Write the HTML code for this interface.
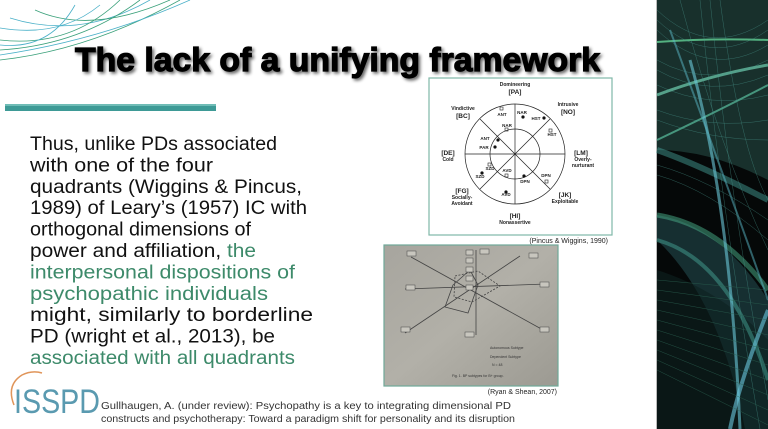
<!DOCTYPE html>
<html><head><meta charset="utf-8">
<style>
html,body{margin:0;padding:0;background:#fff;}
svg{display:block;}
text{font-family:"Liberation Sans",sans-serif;}
</style></head>
<body>
<svg width="768" height="429" viewBox="0 0 768 429" xmlns="http://www.w3.org/2000/svg">
<defs>
<linearGradient id="photo" x1="0" y1="0" x2="1" y2="1">
<stop offset="0" stop-color="#a7a59e"/><stop offset="0.5" stop-color="#b2b0a8"/><stop offset="1" stop-color="#9c9a92"/>
</linearGradient>
<filter id="sh" x="-5%" y="-20%" width="110%" height="140%">
<feGaussianBlur in="SourceAlpha" stdDeviation="1.5"/><feOffset dx="2" dy="2"/>
<feComponentTransfer><feFuncA type="linear" slope="0.6"/></feComponentTransfer>
<feMerge><feMergeNode/><feMergeNode in="SourceGraphic"/></feMerge>
</filter>
</defs>
<rect width="768" height="429" fill="#fff"/>

<!-- top-left decoration -->
<g fill="none" stroke-width="0.8">
<path d="M0 60 Q90 50 180 0" stroke="#3aa07a"/>
<path d="M0 55 Q100 40 190 0" stroke="#4ab0c8"/>
<path d="M10 18 Q80 40 150 0" stroke="#4ab0c8"/>
<path d="M35 10 Q90 35 170 0" stroke="#3aa07a"/>
<path d="M0 40 Q70 48 120 0" stroke="#3aa07a"/>
<path d="M0 28 Q60 38 100 5" stroke="#4ab0c8"/>
<path d="M0 50 Q80 45 140 0" stroke="#3aa07a"/>
<path d="M0 45 Q50 50 75 5" stroke="#4ab0c8"/>
</g>

<!-- title -->
<text x="75" y="71" font-size="33" font-weight="bold" fill="#000" stroke="#000" stroke-width="1.2" filter="url(#sh)" textLength="525" lengthAdjust="spacingAndGlyphs">The lack of a unifying framework</text>

<!-- teal bar -->
<rect x="5" y="104" width="211" height="7" fill="#3e9a96"/>
<rect x="5" y="104" width="211" height="2" fill="#6fbcb6"/>

<!-- body text -->
<g font-size="19" fill="#111">
<text x="30" y="150" textLength="247" lengthAdjust="spacingAndGlyphs">Thus, unlike PDs associated</text>
<text x="30" y="171.4" textLength="183" lengthAdjust="spacingAndGlyphs">with one of the four</text>
<text x="30" y="192.8" textLength="272" lengthAdjust="spacingAndGlyphs">quadrants (Wiggins &amp; Pincus,</text>
<text x="30" y="214.2" textLength="277" lengthAdjust="spacingAndGlyphs">1989) of Leary’s (1957) IC with</text>
<text x="30" y="235.6" textLength="221" lengthAdjust="spacingAndGlyphs">orthogonal dimensions of</text>
<text x="30" y="257" textLength="226" lengthAdjust="spacingAndGlyphs">power and affiliation, <tspan fill="#3d8a6a">the</tspan></text>
<text x="30" y="278.4" textLength="265" lengthAdjust="spacingAndGlyphs" fill="#3d8a6a">interpersonal dispositions of</text>
<text x="30" y="299.8" textLength="238" lengthAdjust="spacingAndGlyphs" fill="#3d8a6a">psychopathic individuals</text>
<text x="30" y="321.2" textLength="283" lengthAdjust="spacingAndGlyphs">might, similarly to borderline</text>
<text x="30" y="342.6" textLength="245" lengthAdjust="spacingAndGlyphs">PD (wright et al., 2013), be</text>
<text x="30" y="364" textLength="265" lengthAdjust="spacingAndGlyphs" fill="#3d8a6a">associated with all quadrants</text>
</g>

<!-- Figure 1 -->
<rect x="429" y="78" width="183" height="157" fill="#fff" stroke="#7fb8a8" stroke-width="1.2"/>
<g stroke="#222" stroke-width="0.7" fill="none">
<circle cx="515" cy="154" r="50"/>
<circle cx="515" cy="154" r="25"/>
<line x1="465" y1="154" x2="565" y2="154"/>
<line x1="515" y1="104" x2="515" y2="204"/>
<line x1="480" y1="119" x2="550" y2="189"/>
<line x1="550" y1="119" x2="480" y2="189"/>
</g>
<g font-size="5" font-weight="bold" fill="#222" text-anchor="middle">
<text x="515" y="86">Domineering</text><text x="515" y="94" font-size="6.5">[PA]</text>
<text x="463" y="110">Vindictive</text><text x="463" y="118" font-size="6.5">[BC]</text>
<text x="568" y="106">Intrusive</text><text x="568" y="114" font-size="6.5">[NO]</text>
<text x="448" y="155" font-size="6.5">[DE]</text><text x="448" y="161">Cold</text>
<text x="581" y="155" font-size="6.5">[LM]</text><text x="583" y="161">Overly-</text><text x="583" y="167">nurturant</text>
<text x="462" y="193" font-size="6.5">[FG]</text><text x="462" y="199">Socially-</text><text x="462" y="205">Avoidant</text>
<text x="565" y="197" font-size="6.5">[JK]</text><text x="565" y="203">Exploitable</text>
<text x="515" y="218" font-size="6.5">[HI]</text><text x="515" y="224">Nonassertive</text>
<text x="502" y="116" font-size="4.5">ANT</text><text x="522" y="114" font-size="4.5">NAR</text>
<text x="536" y="120" font-size="4.5">HST</text><text x="552" y="136" font-size="4.5">HST</text>
<text x="507" y="127" font-size="4.5">NAR</text><text x="485" y="140" font-size="4.5">ANT</text>
<text x="484" y="149" font-size="4.5">PAR</text><text x="490" y="170" font-size="4.5">SZD</text>
<text x="480" y="178" font-size="4.5">SZD</text><text x="507" y="172" font-size="4.5">AVD</text>
<text x="525" y="183" font-size="4.5">DPN</text><text x="546" y="177" font-size="4.5">DPN</text>
<text x="506" y="196" font-size="4.5">AVD</text>
</g>
<g fill="#111">
<circle cx="523" cy="117" r="1.6"/><circle cx="544" cy="118" r="1.6"/>
<circle cx="498" cy="140" r="1.6"/><circle cx="495" cy="147" r="1.6"/>
<circle cx="482" cy="173" r="1.6"/><circle cx="524" cy="176" r="1.6"/>
<circle cx="506" cy="192" r="1.6"/>
</g>
<g fill="none" stroke="#222" stroke-width="0.6">
<rect x="500" y="107" width="3" height="3"/><rect x="549" y="129" width="3" height="3"/>
<rect x="505" y="128" width="3" height="3"/><rect x="488" y="163" width="3" height="3"/>
<rect x="505" y="174" width="3" height="3"/><rect x="545" y="180" width="3" height="3"/>
</g>
<text x="608" y="243" font-size="7" fill="#222" text-anchor="end">(Pincus &amp; Wiggins, 1990)</text>

<!-- Figure 2 (photo) -->
<rect x="384" y="245" width="174" height="141" fill="url(#photo)" stroke="#6fa898" stroke-width="1.2"/>
<g stroke="#444" stroke-width="0.8" fill="none">
<line x1="476" y1="250" x2="476" y2="335"/>
<line x1="411" y1="257" x2="545" y2="331"/>
<line x1="405" y1="333" x2="520" y2="256"/>
<line x1="405" y1="289" x2="546" y2="284"/>
<path d="M453 285 L470 270 L478 285 L468 313 L445 307 Z"/>
<path d="M455 276 L478 271 L500 286 L472 302 L454 297 Z" stroke-dasharray="2 1.5"/>
</g>
<g fill="#c8c6be" stroke="#444" stroke-width="0.5">
<rect x="407" y="251" width="9" height="5"/><rect x="466" y="250" width="7" height="5"/>
<rect x="480" y="249" width="9" height="5"/><rect x="529" y="253" width="9" height="5"/>
<rect x="466" y="258" width="7" height="5"/><rect x="466" y="267" width="7" height="5"/>
<rect x="466" y="276" width="7" height="5"/><rect x="466" y="285" width="7" height="5"/>
<rect x="406" y="285" width="9" height="5"/><rect x="540" y="282" width="9" height="5"/>
<rect x="401" y="327" width="9" height="5"/><rect x="540" y="327" width="9" height="5"/>
<rect x="465" y="332" width="9" height="5"/>
</g>
<g font-size="3.5" fill="#333">
<text x="490" y="349">Autonomous Subtype</text>
<text x="490" y="358">Dependent Subtype</text>
<text x="492" y="366">N = 48</text>
<text x="452" y="377">Fig. 1. BP subtypes for B+ group.</text>
</g>
<text x="557" y="394" font-size="7" fill="#222" text-anchor="end">(Ryan &amp; Shean, 2007)</text>

<!-- ISSPD logo -->
<path d="M14 405 Q6 385 22 375 Q32 370 42 373" fill="none" stroke="#e0955a" stroke-width="1.5"/>
<text x="14" y="413" font-size="34" fill="#5a9ab0" textLength="86" lengthAdjust="spacingAndGlyphs">ISSPD</text>

<!-- citation -->
<g font-size="10.5" fill="#333">
<text x="101" y="409" textLength="410" lengthAdjust="spacingAndGlyphs">Gullhaugen, A. (under review): Psychopathy is a key to integrating dimensional PD</text>
<text x="101" y="422" textLength="414" lengthAdjust="spacingAndGlyphs">constructs and psychotherapy: Toward a paradigm shift for personality and its disruption</text>
</g>

<!-- right decorative panel -->
<rect x="656" y="0" width="1" height="429" fill="#bbb"/>
<rect x="657" y="0" width="111" height="429" fill="#050808"/>
<path d="M657 0 L768 0 L768 180 Q710 150 657 150 Z" fill="#1d3b36" opacity="0.8"/>
<path d="M657 215 Q720 225 768 300 L768 429 L745 429 Q720 300 657 240 Z" fill="#1a3a3c" opacity="0.8"/>
<path d="M657 270 Q720 290 768 340 L768 429 L657 429 Z" fill="#0e2220" opacity="0.6"/>
<g fill="none">
<path d="M657 42 Q710 38 768 40" stroke="#5ac08a" stroke-width="2" opacity="0.9"/>
<path d="M657 95 Q710 75 768 65" stroke="#6fd0b0" stroke-width="3" opacity="0.7"/>
<path d="M657 140 Q720 110 768 85" stroke="#5ac0a0" stroke-width="2" opacity="0.7"/>
<path d="M657 150 Q700 165 768 200" stroke="#4aa8a0" stroke-width="6" opacity="0.45"/>
<path d="M657 215 Q720 225 768 290" stroke="#4ab08a" stroke-width="5" opacity="0.5"/>
<path d="M657 240 Q730 260 768 380" stroke="#4ab0a0" stroke-width="4" opacity="0.45"/>
<path d="M690 60 Q730 200 740 429" stroke="#6ac8d8" stroke-width="3" opacity="0.6"/>
<path d="M670 30 Q740 220 768 300" stroke="#5ab8c8" stroke-width="2" opacity="0.5"/>
<path d="M768 310 Q740 380 730 429" stroke="#6ac8e0" stroke-width="4" opacity="0.6"/>
</g>
<g fill="none" stroke="#4a9a90" stroke-width="0.4" opacity="0.7">
<path d="M657 10 Q710 60 768 20"/><path d="M657 20 Q710 70 768 30"/><path d="M657 30 Q710 80 768 45"/>
<path d="M657 60 Q710 90 768 60"/><path d="M657 70 Q710 100 768 75"/><path d="M657 85 Q710 110 768 95"/>
<path d="M657 110 Q710 130 768 120"/><path d="M657 120 Q710 140 768 140"/><path d="M657 165 Q710 180 768 220"/>
<path d="M657 175 Q710 190 768 240"/><path d="M700 0 Q720 200 760 429"/><path d="M710 0 Q730 200 768 400"/>
<path d="M680 0 Q720 150 768 250"/><path d="M720 0 Q740 150 768 200"/>
</g>
<g stroke="#2a6050" stroke-width="0.5" opacity="0.8">
<line x1="657" y1="280" x2="768" y2="290"/><line x1="657" y1="290" x2="768" y2="305"/>
<line x1="657" y1="300" x2="768" y2="320"/><line x1="657" y1="310" x2="768" y2="335"/>
<line x1="657" y1="320" x2="768" y2="350"/><line x1="657" y1="330" x2="768" y2="365"/>
<line x1="657" y1="340" x2="768" y2="380"/><line x1="657" y1="350" x2="768" y2="395"/>
<line x1="657" y1="360" x2="768" y2="410"/><line x1="657" y1="370" x2="768" y2="425"/>
</g>
</svg>
</body></html>
